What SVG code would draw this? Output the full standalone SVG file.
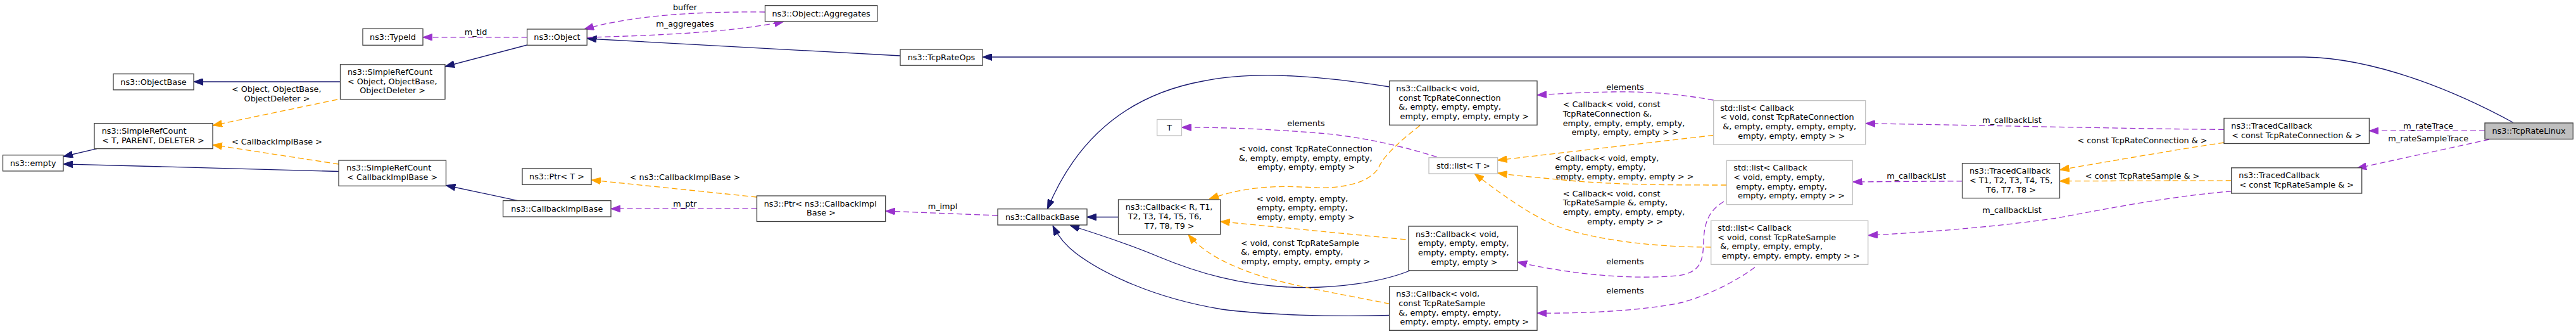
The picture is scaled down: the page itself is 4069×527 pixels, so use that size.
<svg xmlns="http://www.w3.org/2000/svg" width="4069" height="527" viewBox="0 0 4069 527">
<style>
.bg{fill:#ffffff}
.n{fill:#ffffff;stroke:#404040;stroke-width:1.3}
.g{fill:#ffffff;stroke:#bfbfbf;stroke-width:1.3}
.h{fill:#bfbfbf;stroke:#404040;stroke-width:1.3}
text{font-family:"DejaVu Sans","Liberation Sans",sans-serif;font-size:12.8px;fill:#000000}
.c{text-anchor:middle}
.inh{fill:none;stroke:#191970;stroke-width:1.3}
.use{fill:none;stroke:#9a32cd;stroke-width:1.3;stroke-dasharray:9,5}
.tpl{fill:none;stroke:#ffa500;stroke-width:1.3;stroke-dasharray:9,5}
.inh{marker-end:url(#an)}
.use{marker-end:url(#ap)}
.tpl{marker-end:url(#ao)}
</style>
<defs>
<marker id="an" viewBox="0 0 15 11" markerWidth="15" markerHeight="11" refX="15" refY="5.5" orient="auto" markerUnits="userSpaceOnUse"><path d="M0,0 L15,5.5 L0,11 z" fill="#191970" stroke="#191970" stroke-width="1"/></marker>
<marker id="ap" viewBox="0 0 15 11" markerWidth="15" markerHeight="11" refX="15" refY="5.5" orient="auto" markerUnits="userSpaceOnUse"><path d="M0,0 L15,5.5 L0,11 z" fill="#9a32cd" stroke="#9a32cd" stroke-width="1"/></marker>
<marker id="ao" viewBox="0 0 15 11" markerWidth="15" markerHeight="11" refX="15" refY="5.5" orient="auto" markerUnits="userSpaceOnUse"><path d="M0,0 L15,5.5 L0,11 z" fill="#ffa500" stroke="#ffa500" stroke-width="1"/></marker>
</defs>
<rect class="bg" x="0" y="0" width="4069" height="527"/>

<g id="edges">
<path class="inh" d="M3970,193.5 C3890,150 3760,92 3640,90 L1552,90"/>
<path class="inh" d="M1422,88 L927.5,61"/>
<path class="inh" d="M832.6,71 L703,105"/>
<path class="inh" d="M537.5,129 L306,129"/>
<path class="tpl" d="M533,157 L336,198"/>
<path class="tpl" d="M535,259 L336,228.5"/>
<path class="inh" d="M153,234.6 L100,247"/>
<path class="inh" d="M535,270.5 L100,258.8"/>
<path class="use" d="M832.6,58.8 L668,58.8"/>
<path class="use" d="M1208.5,19 C1100,18 1000,24 923,46"/>
<path class="use" d="M927.5,59 C1030,56 1150,52 1238,34"/>
<path class="inh" d="M818,316.6 L704.5,292.5"/>
<path class="tpl" d="M1195.5,311 L934,284"/>
<path class="use" d="M1195.5,329.4 L965,329.4"/>
<path class="use" d="M1576,340 L1398.7,333"/>
<path class="inh" d="M1766.5,342.5 L1717,342.5"/>
<path class="inh" d="M2194.6,137 C2100,122 1990,110 1900,128 C1780,150 1700,220 1654.5,329.7"/>
<path class="inh" d="M2227,427 C2180,446 2110,455 2047,453.5 C1960,451 1890,430 1830,405 C1780,384 1730,368 1690,355.5"/>
<path class="inh" d="M2194.6,497.5 C2100,500 2000,497 1930,488 C1820,470 1740,430 1700,400 C1680,385 1670,370 1663,356"/>
<path class="tpl" d="M2243,198 C2215,220 2185,245 2177,266 C2160,290 2120,297 2080,296 C2030,294 1980,290 1910,314"/>
<path class="tpl" d="M2220.5,378 L1927.7,349.5"/>
<path class="tpl" d="M2195,479.5 C2130,466 2060,455 2000,438 C1940,420 1900,398 1877,370"/>
<path class="use" d="M2269.6,247.7 C2220,232 2150,215 2083,210 C2010,204 1940,201 1866.5,201"/>
<path class="tpl" d="M2706.7,213.4 L2365.6,252.8"/>
<path class="tpl" d="M2727,292 C2650,292 2560,292 2480,285 C2430,280 2400,278 2365.6,273"/>
<path class="tpl" d="M2702.7,390 C2620,390 2520,380 2457,356 C2410,335 2370,305 2329,274"/>
<path class="use" d="M2706.7,158 C2650,148 2600,144 2546,145 C2490,146 2460,148 2428,150"/>
<path class="use" d="M2723,318 C2700,332 2692,350 2691,380 C2690,410 2688,430 2650,435 C2560,443 2460,428 2397,413.5"/>
<path class="use" d="M2772,421.8 C2740,445 2700,465 2658,477 C2600,490 2500,495 2428,494"/>
<path class="use" d="M3099.5,285.8 L2926.5,287"/>
<path class="use" d="M3513,204.4 C3350,203 3150,198 2947,194.8"/>
<path class="use" d="M3524.7,301.8 C3420,310 3300,335 3246,344.5 C3150,358 3050,366 2951,371.4"/>
<path class="tpl" d="M3513,225 C3450,234 3330,255 3253.6,268"/>
<path class="tpl" d="M3524.7,285 L3253.6,285.7"/>
<path class="use" d="M3925,206.4 L3742.4,206.4"/>
<path class="use" d="M3932,220 L3723,265.5"/>

<text class="c" x="751.5" y="54.8">m_tid</text>
<text class="c" x="1082" y="16.3">buffer</text>
<text class="c" x="1082" y="41.5">m_aggregates</text>
<text x="366" y="145">&lt; Object, ObjectBase,</text>
<text class="c" x="437.5" y="159.7">ObjectDeleter &gt;</text>
<text class="c" x="437.5" y="228">&lt; CallbackImplBase &gt;</text>
<text class="c" x="1082" y="284">&lt; ns3::CallbackImplBase &gt;</text>
<text class="c" x="1082" y="325.5">m_ptr</text>
<text class="c" x="1489" y="329.5">m_impl</text>
<text class="c" x="2063" y="198.8">elements</text>
<text x="1956.7" y="238.8">&lt; void, const TcpRateConnection</text>
<text x="1956.7" y="253.5">&amp;, empty, empty, empty, empty,</text>
<text class="c" x="2063" y="268.2">empty, empty, empty &gt;</text>
<text x="1985" y="317.5">&lt; void, empty, empty,</text>
<text x="1985" y="332.2">empty, empty, empty,</text>
<text class="c" x="2062.5" y="346.8">empty, empty, empty &gt;</text>
<text x="1960" y="387.5">&lt; void, const TcpRateSample</text>
<text x="1960" y="402.2">&amp;, empty, empty, empty,</text>
<text class="c" x="2062.5" y="416.9">empty, empty, empty, empty &gt;</text>
<text class="c" x="2567" y="141.5">elements</text>
<text x="2468.7" y="169.2">&lt; Callback&lt; void, const</text>
<text x="2468.7" y="183.9">TcpRateConnection &amp;,</text>
<text x="2468.7" y="198.6">empty, empty, empty, empty,</text>
<text class="c" x="2567" y="213.3">empty, empty, empty &gt; &gt;</text>
<text x="2456.2" y="253.5">&lt; Callback&lt; void, empty,</text>
<text x="2456.2" y="268.2">empty, empty, empty,</text>
<text class="c" x="2566.5" y="282.9">empty, empty, empty, empty &gt; &gt;</text>
<text x="2468.7" y="309.5">&lt; Callback&lt; void, const</text>
<text x="2468.7" y="324.2">TcpRateSample &amp;, empty,</text>
<text x="2468.7" y="338.9">empty, empty, empty, empty,</text>
<text class="c" x="2567" y="353.6">empty, empty &gt; &gt;</text>
<text class="c" x="2567" y="417.2">elements</text>
<text class="c" x="2567" y="462.5">elements</text>
<text class="c" x="3178" y="193.5">m_callbackList</text>
<text class="c" x="3384" y="225.5">&lt; const TcpRateConnection &amp; &gt;</text>
<text class="c" x="3027" y="281.5">m_callbackList</text>
<text class="c" x="3384" y="281.5">&lt; const TcpRateSample &amp; &gt;</text>
<text class="c" x="3178" y="336.2">m_callbackList</text>
<text class="c" x="3835.7" y="202.8">m_rateTrace</text>
<text class="c" x="3835.7" y="223">m_rateSampleTrace</text>
</g>

<g id="node-empty"><rect class="n" x="4.5" y="244.7" width="95.5" height="25.2"/><text class="c" x="52.2" y="261.6">ns3::empty</text></g>
<g id="node-ObjectBase"><rect class="n" x="179" y="116.6" width="127" height="25.2"/><text class="c" x="242.5" y="133.5">ns3::ObjectBase</text></g>
<g id="node-SimpleRefCountT"><rect class="n" x="149" y="194.6" width="187" height="40"/><text x="160.7" y="211">ns3::SimpleRefCount</text><text class="c" x="242" y="225.5">&lt; T, PARENT, DELETER &gt;</text></g>
<g id="node-TypeId"><rect class="n" x="573" y="45.4" width="95" height="25.9"/><text class="c" x="620.5" y="62.6">ns3::TypeId</text></g>
<g id="node-SimpleRefCountObject"><rect class="n" x="537.5" y="101.8" width="165.5" height="54.8"/><text x="549" y="118">ns3::SimpleRefCount</text><text x="549" y="132.7">&lt; Object, ObjectBase,</text><text class="c" x="620.2" y="147.4">ObjectDeleter &gt;</text></g>
<g id="node-SimpleRefCountCIB"><rect class="n" x="535" y="253" width="169.5" height="40.4"/><text x="547.3" y="269.3">ns3::SimpleRefCount</text><text class="c" x="619.7" y="284">&lt; CallbackImplBase &gt;</text></g>
<g id="node-Object"><rect class="n" x="832.6" y="46" width="94.6" height="25.3"/><text class="c" x="879.9" y="63">ns3::Object</text></g>
<g id="node-Aggregates"><rect class="n" x="1208.5" y="8.7" width="177.2" height="25.3"/><text class="c" x="1297.1" y="25.7">ns3::Object::Aggregates</text></g>
<g id="node-PtrT"><rect class="n" x="825" y="265.9" width="109" height="25.5"/><text class="c" x="879.5" y="282.9">ns3::Ptr&lt; T &gt;</text></g>
<g id="node-CallbackImplBase"><rect class="n" x="794.6" y="316.6" width="170.4" height="25.4"/><text class="c" x="879.8" y="333.6">ns3::CallbackImplBase</text></g>
<g id="node-PtrCIB"><rect class="n" x="1195.5" y="309" width="203.2" height="40.5"/><text x="1206.7" y="325.5">ns3::Ptr&lt; ns3::CallbackImpl</text><text class="c" x="1297" y="340.2">Base &gt;</text></g>
<g id="node-TcpRateOps"><rect class="n" x="1422" y="78" width="130" height="25.2"/><text class="c" x="1487" y="95">ns3::TcpRateOps</text></g>
<g id="node-T"><rect class="g" x="1827.7" y="188.5" width="38.8" height="25.5"/><text class="c" x="1847.1" y="205.5">T</text></g>
<g id="node-CallbackBase"><rect class="n" x="1576" y="329.7" width="141" height="25.3"/><text class="c" x="1646.5" y="346.7">ns3::CallbackBase</text></g>
<g id="node-CallbackRT"><rect class="n" x="1766.5" y="315" width="161.2" height="55"/><text x="1777.7" y="331.2">ns3::Callback&lt; R, T1,</text><text x="1777.7" y="345.9" xml:space="preserve"> T2, T3, T4, T5, T6,</text><text class="c" x="1847.1" y="360.6">T7, T8, T9 &gt;</text></g>
<g id="node-CallbackTRC"><rect class="n" x="2194.6" y="127.7" width="233.4" height="69.6"/><text x="2205.3" y="144">ns3::Callback&lt; void,</text><text x="2205.3" y="158.7" xml:space="preserve"> const TcpRateConnection</text><text x="2205.3" y="173.4" xml:space="preserve"> &amp;, empty, empty, empty,</text><text class="c" x="2311.3" y="188.1" xml:space="preserve"> empty, empty, empty, empty &gt;</text></g>
<g id="node-ListT"><rect class="g" x="2257" y="248.7" width="108.6" height="25.3"/><text class="c" x="2311.3" y="265.7">std::list&lt; T &gt;</text></g>
<g id="node-CallbackEmpty"><rect class="n" x="2225" y="357" width="172" height="69.8"/><text x="2236" y="373.5">ns3::Callback&lt; void,</text><text x="2236" y="388.2" xml:space="preserve"> empty, empty, empty,</text><text x="2236" y="402.9" xml:space="preserve"> empty, empty, empty,</text><text class="c" x="2311" y="417.6" xml:space="preserve"> empty, empty &gt;</text></g>
<g id="node-CallbackTRS"><rect class="n" x="2194.6" y="452" width="233.4" height="69.3"/><text x="2205.3" y="468.3">ns3::Callback&lt; void,</text><text x="2205.3" y="483" xml:space="preserve"> const TcpRateSample</text><text x="2205.3" y="497.7" xml:space="preserve"> &amp;, empty, empty, empty,</text><text class="c" x="2311.3" y="512.4" xml:space="preserve"> empty, empty, empty, empty &gt;</text></g>
<g id="node-ListTRC"><rect class="g" x="2706.7" y="158.7" width="240" height="69.3"/><text x="2717.3" y="174.5">std::list&lt; Callback</text><text x="2717.3" y="189.2">&lt; void, const TcpRateConnection</text><text x="2717.3" y="203.9" xml:space="preserve"> &amp;, empty, empty, empty, empty,</text><text class="c" x="2827.8" y="218.6" xml:space="preserve"> empty, empty, empty &gt; &gt;</text></g>
<g id="node-ListEmpty"><rect class="g" x="2727.3" y="253.3" width="199" height="69.3"/><text x="2738.3" y="269.2">std::list&lt; Callback</text><text x="2738.3" y="283.9">&lt; void, empty, empty,</text><text x="2738.3" y="298.6" xml:space="preserve"> empty, empty, empty,</text><text class="c" x="2827.5" y="313.3" xml:space="preserve"> empty, empty, empty &gt; &gt;</text></g>
<g id="node-ListTRS"><rect class="g" x="2702.7" y="348.3" width="248" height="69"/><text x="2713.3" y="363.8">std::list&lt; Callback</text><text x="2713.3" y="378.5">&lt; void, const TcpRateSample</text><text x="2713.3" y="393.2" xml:space="preserve"> &amp;, empty, empty, empty,</text><text class="c" x="2826.7" y="407.9" xml:space="preserve"> empty, empty, empty, empty &gt; &gt;</text></g>
<g id="node-TracedCallbackT"><rect class="n" x="3099.5" y="257.8" width="154" height="54.8"/><text x="3111" y="274.1">ns3::TracedCallback</text><text x="3111" y="288.8">&lt; T1, T2, T3, T4, T5,</text><text class="c" x="3176.5" y="303.5">T6, T7, T8 &gt;</text></g>
<g id="node-TracedCallbackTRC"><rect class="n" x="3513" y="186.5" width="229.4" height="40"/><text x="3524.3" y="202.8">ns3::TracedCallback</text><text class="c" x="3627.7" y="217.5">&lt; const TcpRateConnection &amp; &gt;</text></g>
<g id="node-TracedCallbackTRS"><rect class="n" x="3524.7" y="264.8" width="206" height="40.2"/><text x="3536.3" y="281.1">ns3::TracedCallback</text><text class="c" x="3627.7" y="295.8">&lt; const TcpRateSample &amp; &gt;</text></g>
<g id="node-TcpRateLinux"><rect class="h" x="3925" y="194" width="139.3" height="25.5"/><text class="c" x="3994.6" y="211.2">ns3::TcpRateLinux</text></g>
</svg>
